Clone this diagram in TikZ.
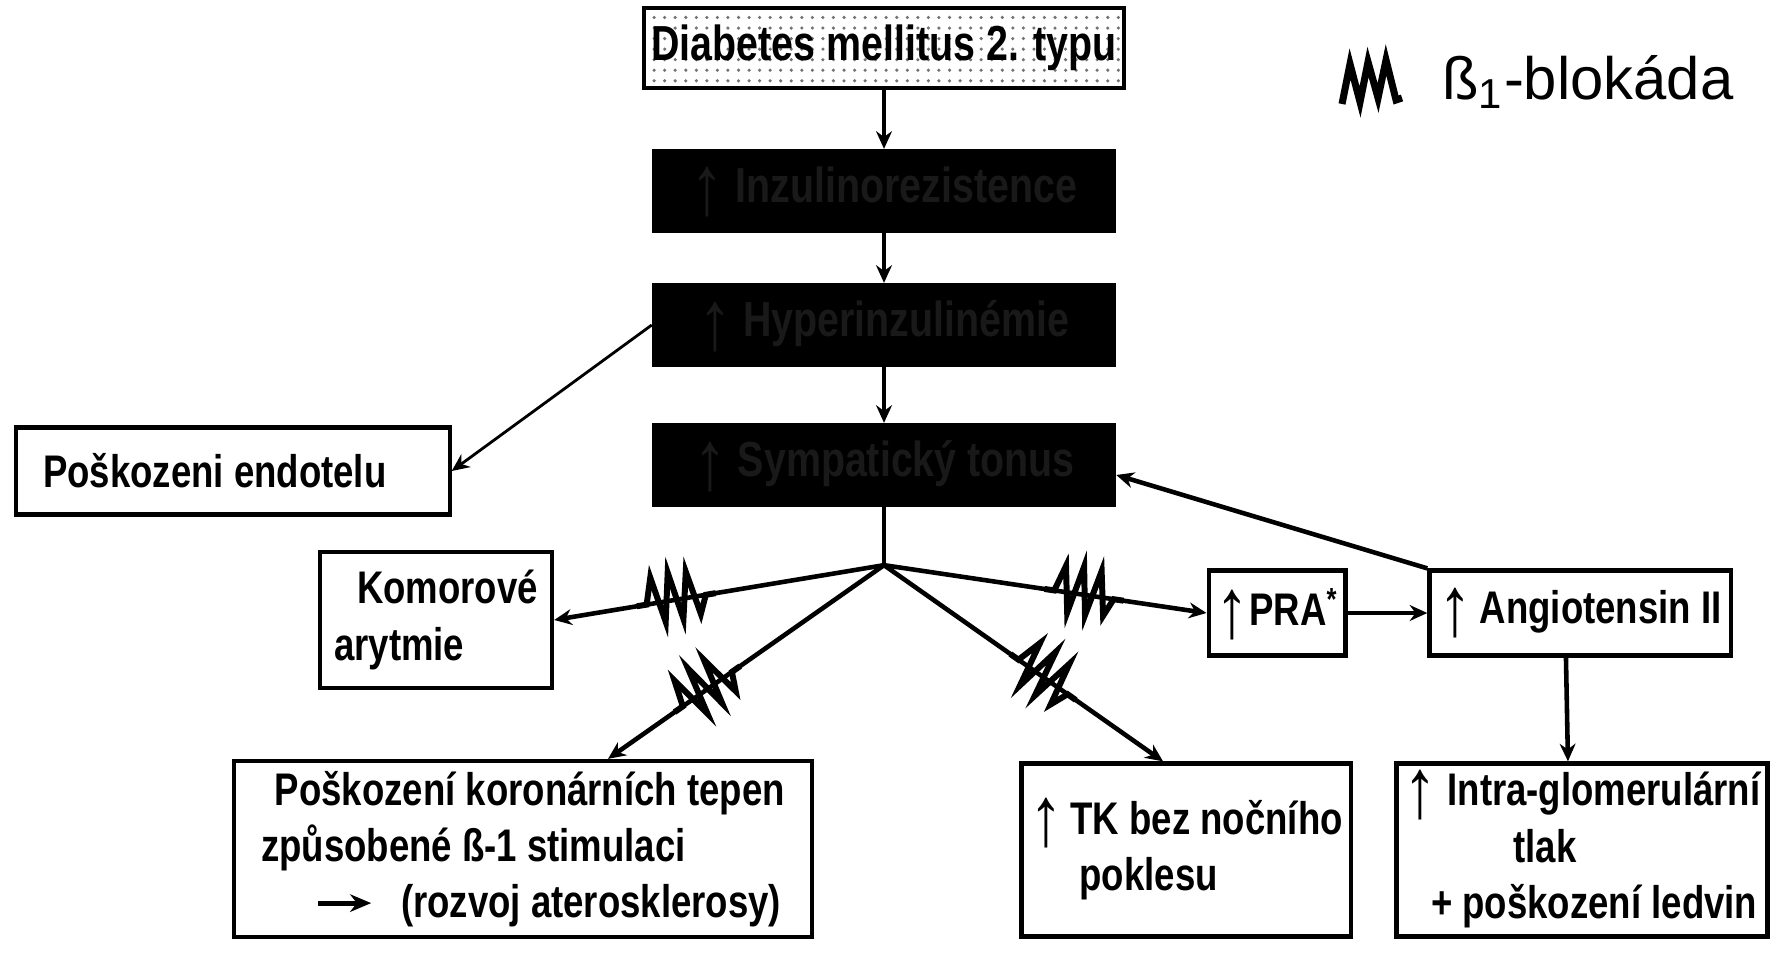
\documentclass[tikz,border=0pt]{standalone}
\usepackage{fontspec}
\setmainfont{Liberation Sans}
\newfontfamily\boxfont{Liberation Sans}[FakeStretch=0.8]
\usetikzlibrary{positioning,patterns,arrows.meta,calc}
\newcommand{\up}{\raisebox{-0.25em}{\smash{\fontsize{24pt}{24pt}\selectfont\mdseries ↑}}}
\newcommand{\rarr}{\tikz[baseline=-0.6ex]\draw[line width=1.4pt,-{Stealth[length=6pt,width=5pt]}] (0pt,0pt) -- (15pt,0pt);}

\begin{document}
\begin{tikzpicture}[x={(0.01cm,0cm)},y={(0cm,-0.01cm)},
  box/.style={draw=black, line width=1.2pt, fill=white, inner sep=2pt, align=left, font=\boxfont\bfseries\fontsize{13pt}{16pt}\selectfont},
  darkbox/.style={box, fill=black, text=black!90, minimum width=4.6cm, minimum height=0.8cm, font=\boxfont\bfseries\fontsize{14pt}{16pt}\selectfont},
  arr/.style={line width=1.3pt, -{Stealth[length=5pt,width=4.5pt]}},
  pics/blokada/.style={code={\draw[-, line width=1.7pt, line join=miter] (-40,0) -- (-30,0) -- (-22,-26) -- (-14,20) -- (-4,-28) -- (4,20) -- (14,-26) -- (22,18) -- (30,0) -- (40,0);}},
  pics/legzig/.style={code={\draw[line width=2pt, line join=miter] (-30,22) -- (-22,-18) -- (-12,20) -- (-4,-20) -- (6,16) -- (14,-22) -- (24,18) -- (30,16);}}
]
\useasboundingbox (0,0) rectangle (1774,967);

% main chain
\node[box, pattern=dots, pattern color=black!55, minimum width=4.6cm, minimum height=0.8cm, font=\boxfont\bfseries\fontsize{14pt}{16pt}\selectfont] (diab) at (884,48) {Diabetes mellitus 2. typu};
\node[darkbox] (inzrez) at (884,191) {\up\ Inzulinorezistence};
\node[darkbox] (hyper) at (884,325) {\up\ Hyperinzulinémie};
\node[darkbox] (symp) at (884,465) {\up\ Sympatický tonus};
\coordinate[below=0.58cm of symp.south] (branch);

% legend
\pic at (1372,82) {legzig};
\node[anchor=west, font=\fontsize{17pt}{20pt}\selectfont] (legtext) at (1430,82) {ß\textsubscript{1}-blokáda};

% consequences
\node[box, minimum width=4.33cm, minimum height=0.87cm] (endo) at (233,471) {Poškozeni endotelu\hspace{0.8em}};
\node[box, minimum width=2.32cm, minimum height=1.36cm] (kom) at (436,620) {\hspace{0.5em}Komorové\\arytmie};
\node[box, minimum width=5.77cm, minimum height=1.76cm] (koro) at (523,849) {\hspace{0.3em}Poškození koronárních tepen\\způsobené ß-1 stimulaci\\\hspace{1.2em}\rarr\hspace{0.6em}(rozvoj aterosklerosy)};
\node[box, minimum width=3.29cm, minimum height=1.73cm] (tk) at (1186,850) {\up\,TK bez nočního\\\hspace{1.1em}poklesu};
\node[box, minimum width=3.65cm, minimum height=1.73cm] (intra) at (1582,850) {\up\ Intra-glomerulární\\\hspace{2.4em}tlak\\\hspace{0.6em}+ poškození ledvin};
\node[box, minimum width=1.07cm, minimum height=0.85cm] (pra) at (1277,613) {\up PRA\textsuperscript{*}};
\node[box, minimum width=3.01cm, minimum height=0.85cm] (angio) at (1580,613) {\up\,Angiotensin II};

% connectors
\draw[arr] (diab) -- (inzrez);
\draw[arr] (inzrez) -- (hyper);
\draw[arr] (hyper) -- (symp);
\draw[arr, line width=0.8pt] (hyper.west) -- (endo.east);
\draw[line width=1.3pt] (symp) -- (branch);
\draw[arr] (branch) -- (kom.east) pic[pos=0.63, sloped]{blokada};
\draw[arr] (branch) -- ($(koro.north)+(85,0)$) pic[pos=0.64, sloped]{blokada};
\draw[arr] (branch) -- ($(tk.north)+(-23,0)$) pic[pos=0.57, sloped]{blokada};
\draw[arr] (branch) -- (pra.west) pic[pos=0.62, sloped]{blokada};
\draw[arr] (pra) -- (angio);
\draw[arr] (angio.north west) -- ($(symp.east)+(0,10)$);
\draw[arr] ([xshift=-4pt]angio.south) -- ([xshift=-4pt]intra.north);
\end{tikzpicture}
\end{document}
